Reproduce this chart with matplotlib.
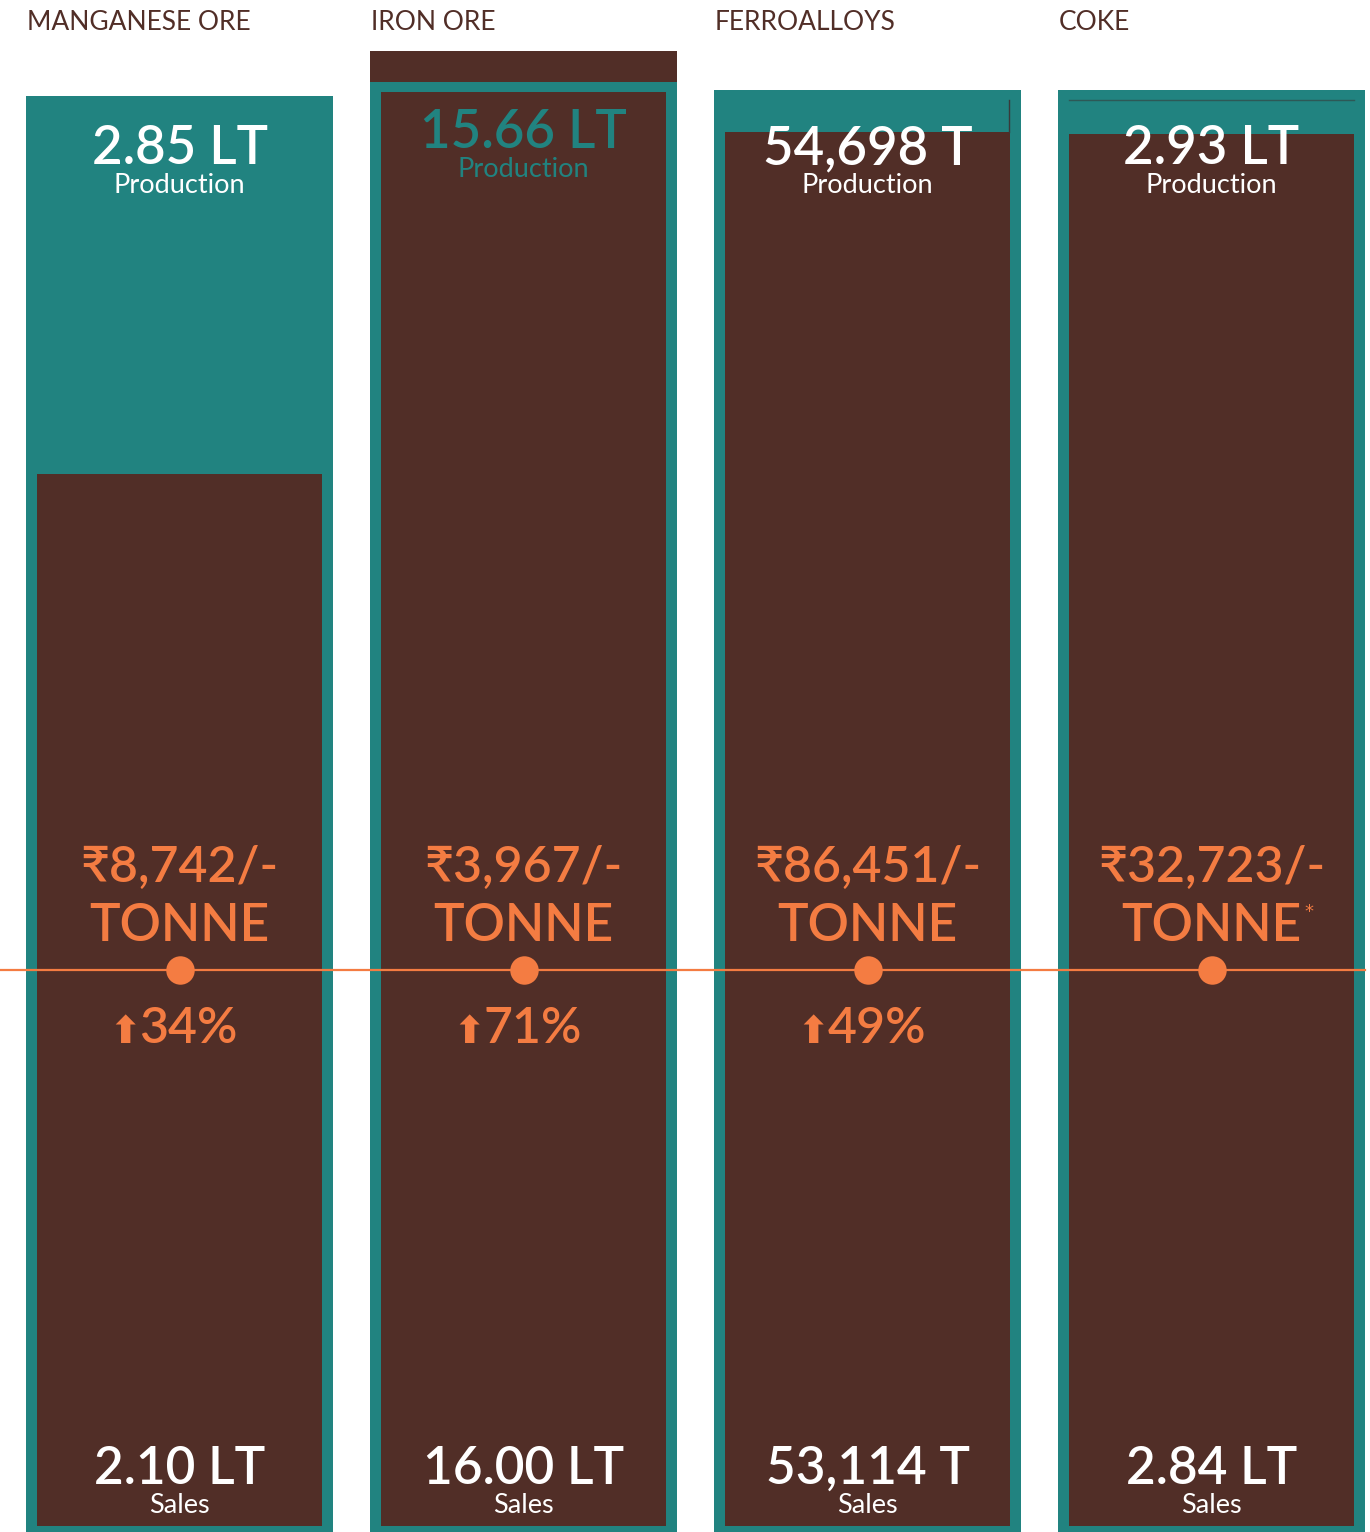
import matplotlib
matplotlib.use("Agg")
import matplotlib.pyplot as plt

# ---- data ----
categories = ["MANGANESE ORE", "IRON ORE", "FERROALLOYS", "COKE"]
production = [2.85, 15.66, 54698, 2.93]
sales = [2.10, 16.00, 53114, 2.84]
production_labels = ["2.85 LT", "15.66 LT", "54,698 T", "2.93 LT"]
sales_labels = ["2.10 LT", "16.00 LT", "53,114 T", "2.84 LT"]
price_labels = ["₹8,742/-", "₹3,967/-", "₹86,451/-", "₹32,723/-"]
price_unit = ["TONNE", "TONNE", "TONNE", "TONNE"]
price_note = ["", "", "", "*"]
growth_labels = ["34%", "71%", "49%", ""]

TEAL = "#218380"
BROWN = "#512E27"
ORANGE = "#F47C42"
W, H = 1370, 1532
FONT = ["Lato", "DejaVu Sans"]

fig = plt.figure(figsize=(W / 100, H / 100), dpi=100)
fig.patch.set_facecolor("white")

panel_left = [26, 370, 714, 1058]
panel_w = 307
ax_top_px = 51           # top of axes (pixel from top)
ax_h_px = H - ax_top_px  # axes height in px
prod_top_px = [96, 90, 90, 90]
inset_px = 11
border_px = 6

def fy(ypx):
    return 1 - ypx / H

for i in range(4):
    ax = fig.add_axes([panel_left[i] / W, 0, panel_w / W, ax_h_px / H])
    # scale so the larger bar's top lands where the reference puts it
    if sales[i] > production[i]:
        ymax = sales[i]
    else:
        ymax = production[i] * ax_h_px / (H - prod_top_px[i])
    ax.set_xlim(0, 1)
    ax.set_ylim(0, ymax)
    ax.axis("off")
    px = ymax / ax_h_px
    inset = inset_px / panel_w
    if sales[i] > production[i]:
        ax.bar(0.5, sales[i], width=1.0, color=BROWN, zorder=1)
    ax.bar(0.5, production[i], width=1.0, color=TEAL, zorder=2)
    inner_top = min(sales[i], production[i] - 10 * px)
    ax.bar(0.5, inner_top - border_px * px, width=1 - 2 * inset,
           bottom=border_px * px, color=BROWN, zorder=3)
    if i == 3:
        ax.plot([inset, 1 - inset], [production[i] - 10 * px] * 2,
                color="#2d5856", lw=1.0, zorder=4)
    if i == 2:
        ax.plot([1 - inset - 0.003] * 2, [production[i] - 10 * px, inner_top],
                color="#3a3a3a", lw=1.0, zorder=4)

    # marker on the orange line
    ax.scatter([0.5], [(H - 970) * px], s=420, color=ORANGE, zorder=6,
               clip_on=False, linewidths=0)

    cx = (panel_left[i] + panel_w / 2) / W
    # title
    fig.text((panel_left[i] + 1) / W, fy(23), categories[i], family=FONT,
             fontsize=19, color=BROWN, ha="left", va="center")
    pcol = TEAL if sales[i] > production[i] else "white"
    pb = 148 if sales[i] > production[i] else 164
    fig.text(cx, fy(pb), production_labels[i], family=FONT, fontsize=38,
             fontweight="semibold", color=pcol, ha="center", va="baseline", zorder=10)
    fig.text(cx, fy(pb + 29), "Production", family=FONT, fontsize=19.5,
             color=pcol, ha="center", va="baseline", zorder=10)
    fig.text(cx, fy(882), price_labels[i], family=FONT, fontsize=36,
             fontweight="semibold", color=ORANGE, ha="center", va="baseline", zorder=10)
    fig.text(cx, fy(941), price_unit[i], family=FONT, fontsize=37,
             fontweight="semibold", color=ORANGE, ha="center", va="baseline", zorder=10)
    if price_note[i]:
        fig.text(cx + 93 / W, fy(917), price_note[i], family=["DejaVu Sans"], fontsize=13,
                 color=ORANGE, ha="left", va="baseline", zorder=10)
    if growth_labels[i]:
        fig.text(cx + 9 / W, fy(1043), growth_labels[i], family=FONT, fontsize=36,
                 fontweight="semibold", color=ORANGE, ha="center", va="baseline", zorder=10)
        fig.text(cx - 54 / W, fy(1043), "⬆", family=["DejaVu Sans"], fontsize=27,
                 fontweight="bold", color=ORANGE, ha="center", va="baseline", zorder=10)
    fig.text(cx, fy(1484), sales_labels[i], family=FONT, fontsize=37,
             fontweight="semibold", color="white", ha="center", va="baseline", zorder=10)
    fig.text(cx, fy(1513), "Sales", family=FONT, fontsize=19.5,
             color="white", ha="center", va="baseline", zorder=10)

# orange connecting line
fig.add_artist(plt.Line2D([0, 1365 / W], [fy(970), fy(970)], color=ORANGE, lw=1.6, zorder=5))

fig.savefig("out.png", dpi=100)
